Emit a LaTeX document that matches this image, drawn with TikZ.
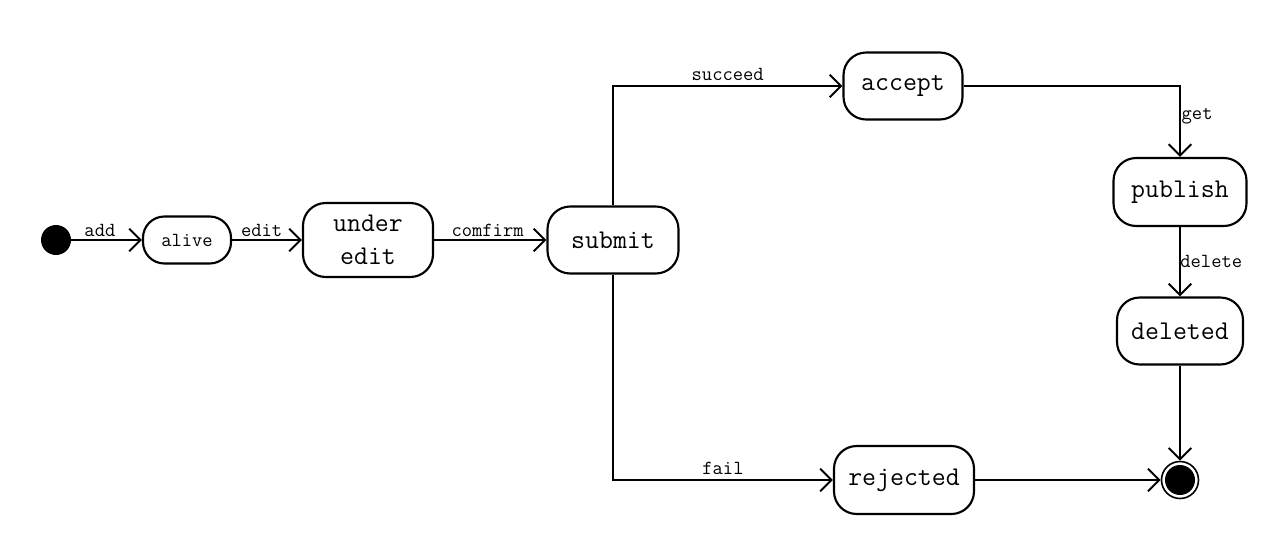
\documentclass[tikz,border=0pt]{standalone}
\usetikzlibrary{arrows.meta}
\begin{document}
\begin{tikzpicture}[x=0.75pt,y=-0.75pt,
  state/.style={draw,line width=1.6pt,rectangle,rounded corners=17pt,inner sep=0pt,
    align=center,font=\fontsize{20.3}{21}\ttfamily},
  lbl/.style={font=\fontsize{15}{16}\ttfamily,inner sep=1.5pt},
  conn/.style={line width=1.5pt,-{Straight Barb[length=8.5pt,width=17pt,line width=1.5pt]}}]
\useasboundingbox (0,0) rectangle (1270,547);
\node[circle,fill=black,minimum size=30*0.75pt,inner sep=0pt] (init) at (56,240) {};
\node[state,rounded corners=16pt,minimum width=88*0.75pt,minimum height=47*0.75pt,font=\fontsize{15}{16}\ttfamily] (alive) at (187,240) {alive};
\node[state,minimum width=130*0.75pt,minimum height=74*0.75pt,font=\fontsize{20.3}{25}\ttfamily] (edit) at (368,240) {under\\edit};
\node[state,minimum width=131*0.75pt,minimum height=67*0.75pt] (submit) at (613,240) {submit};
\node[state,minimum width=119*0.75pt,minimum height=67*0.75pt] (accept) at (903,86) {accept};
\node[state,minimum width=133*0.75pt,minimum height=68*0.75pt] (publish) at (1180,192) {publish};
\node[state,minimum width=126*0.75pt,minimum height=67*0.75pt] (deleted) at (1180,331) {deleted};
\node[state,minimum width=140*0.75pt,minimum height=68*0.75pt] (rejected) at (904,480) {rejected};
\node[circle,draw,line width=1.2pt,minimum size=37*0.75pt,inner sep=0pt] (fin) at (1180,480) {};
\fill (fin.center) circle[radius=15*0.75pt];
\coordinate (c1) at (613,86);
\coordinate (c2) at (613,480);
\coordinate (c3) at (1180,86);
\draw[conn] (init) -- node[lbl,above,xshift=-5pt] {add} (alive);
\draw[conn] (alive) -- node[lbl,above,xshift=-4pt] {edit} (edit);
\draw[conn] (edit) -- node[lbl,above,xshift=-2pt] {comfirm} (submit);
\draw[conn] (submit.north) -- (c1) -- node[lbl,above,yshift=2pt] {succeed} (accept);
\draw[conn] (submit.south) -- (c2) -- node[lbl,above,yshift=2pt] {fail} (rejected);
\draw[conn] (accept) -- (c3) -- node[lbl,right,pos=0.42,xshift=-1pt] {get} (publish);
\draw[conn] (publish) -- node[lbl,right,xshift=-2pt] {delete} (deleted);
\draw[conn] (deleted) -- (fin);
\draw[conn] (rejected) -- (fin);
\end{tikzpicture}
\end{document}
